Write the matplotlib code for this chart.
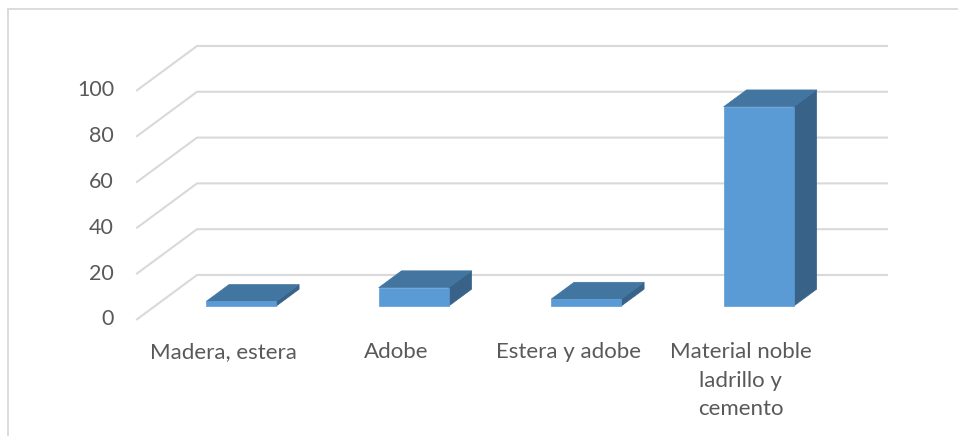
import matplotlib
matplotlib.use("Agg")
import matplotlib.pyplot as plt
from matplotlib.patches import Polygon
from matplotlib.lines import Line2D

categories = ["Madera, estera", "Adobe", "Estera y adobe",
              "Material noble\nladrillo y\ncemento"]
values = [2, 8, 3, 87]
ticks = [0, 20, 40, 60, 80, 100]

# oblique 3-D projection: depth d in [0, 1] shifts right and up
DX, DV = 0.348, 19.35
BAR_W = 0.406
D0, D1 = 0.30, 0.68

FRONT = "#5B9BD5"
TOP = "#4275A0"
SIDE = "#386288"
GRID = "#D9D9D9"
TEXT = "#595959"


def proj(x, v, d):
    return (x + d * DX, v + d * DV)


W, H = 958, 436
fig = plt.figure(figsize=(W / 100, H / 100), dpi=100)
ax = fig.add_axes([0, 0, 1, 1])
px_per_cat = 172.5
px_per_val = 2.29
x_origin, y_origin = 137, 319.3
ax.set_xlim(-x_origin / px_per_cat, (W - x_origin) / px_per_cat)
ax.set_ylim(-(H - y_origin) / px_per_val, y_origin / px_per_val)
ax.axis("off")

plt.rcParams["font.family"] = ["Lato", "DejaVu Sans"]

# chart border
fig.add_artist(Line2D([8 / W, 1.01], [1 - 9 / H, 1 - 9 / H], color=GRID, lw=1.3))
fig.add_artist(Line2D([8 / W, 8 / W], [1 - 9 / H, -0.01], color=GRID, lw=1.3))

n = len(categories)
# gridlines: side wall diagonals and back wall horizontals
for t in ticks:
    x0, y0 = proj(0, t, 0)
    x1, y1 = proj(0, t, 1)
    x2, y2 = proj(n, t, 1)
    ax.plot([x0, x1, x2], [y0, y1, y2], color=GRID, lw=1.5,
            solid_joinstyle="miter", zorder=1)
    ax.text(x0 - 23 / px_per_cat, y0, str(t), ha="right", va="center",
            fontsize=15.5, color=TEXT)

# bars
for i, v in enumerate(values):
    xl = i + 0.5 - BAR_W / 2
    xr = i + 0.5 + BAR_W / 2
    front = [proj(xl, 0, D0), proj(xr, 0, D0), proj(xr, v, D0), proj(xl, v, D0)]
    top = [proj(xl, v, D0), proj(xr, v, D0), proj(xr, v, D1), proj(xl, v, D1)]
    side = [proj(xr, 0, D0), proj(xr, 0, D1), proj(xr, v, D1), proj(xr, v, D0)]
    for pts, c in ((side, SIDE), (top, TOP), (front, FRONT)):
        ax.add_patch(Polygon(pts, closed=True, facecolor=c, edgecolor=c,
                             lw=0.5, zorder=3))

# category labels
for i, name in enumerate(categories):
    ax.text(i + 0.5, -9.8, name, ha="center", va="top", fontsize=16,
            color=TEXT, linespacing=1.55)

fig.savefig("out.png", dpi=100, facecolor="white")
